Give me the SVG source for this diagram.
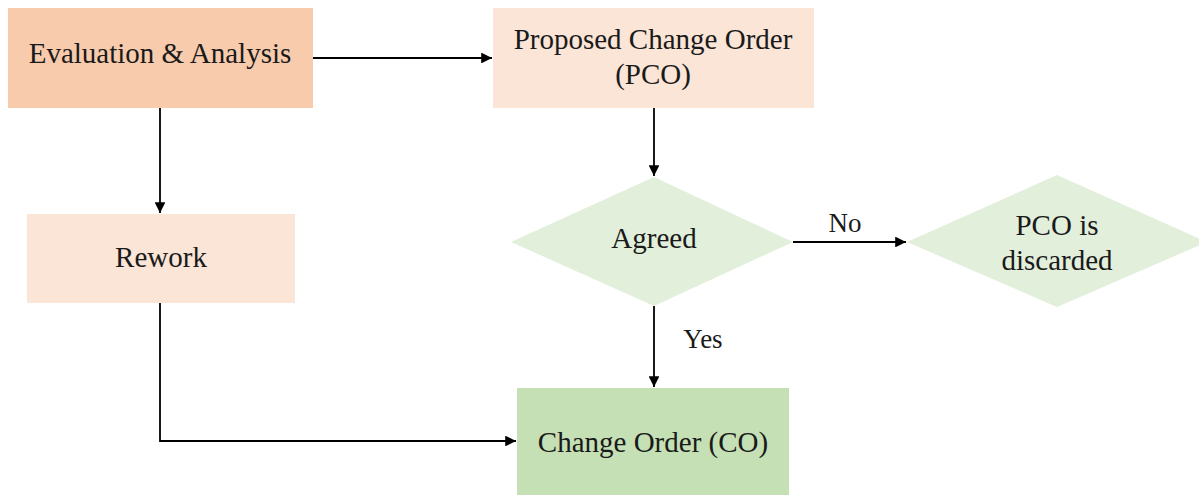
<svg xmlns="http://www.w3.org/2000/svg" width="1199" height="495" viewBox="0 0 1199 495">
<style>
text{font-family:'Liberation Serif',serif !important;font-size:29px;fill:#1a1a1a;text-anchor:middle}
text.lbl{font-size:27px}
.c{fill:none;stroke:#000;stroke-width:1.8}
</style>
<defs>
<marker id="ah" viewBox="0 0 10 10" refX="10" refY="5" markerWidth="6" markerHeight="6" markerUnits="strokeWidth" orient="auto">
<path d="M0,0 L10,5 L0,10 z" fill="#000"/>
</marker>
</defs>
<rect width="1199" height="495" fill="#fff"/>
<g id="eval"><rect x="8" y="8" width="305" height="100" fill="#F8CBAD"/><text x="160" y="63" style="font-family:'Liberation Serif',serif">Evaluation &amp; Analysis</text></g>
<g id="pco"><rect x="493" y="8" width="321" height="100" fill="#FBE5D6"/><text x="653" y="49" style="font-family:'Liberation Serif',serif">Proposed Change Order</text><text x="653" y="84" style="font-family:'Liberation Serif',serif">(PCO)</text></g>
<g id="rework"><rect x="27" y="214" width="268" height="89" fill="#FBE5D6"/><text x="161" y="267" style="font-family:'Liberation Serif',serif">Rework</text></g>
<g id="agreed"><polygon points="654,177 793,242 654,306 511,242" fill="#E2EFDA"/><text x="654" y="248" style="font-family:'Liberation Serif',serif">Agreed</text></g>
<g id="discarded"><polygon points="1057,175 1207,242 1057,307 907,242" fill="#E2EFDA"/><text x="1057" y="235" style="font-family:'Liberation Serif',serif">PCO is</text><text x="1057" y="270" style="font-family:'Liberation Serif',serif">discarded</text></g>
<g id="co"><rect x="517" y="388" width="272" height="107" fill="#C5E0B4"/><text x="653" y="452" style="font-family:'Liberation Serif',serif">Change Order (CO)</text></g>
<g id="connectors">
<line class="c" x1="313" y1="58" x2="492" y2="58" marker-end="url(#ah)"/>
<line class="c" x1="160" y1="108" x2="160" y2="213" marker-end="url(#ah)"/>
<line class="c" x1="654" y1="108" x2="654" y2="176" marker-end="url(#ah)"/>
<line class="c" x1="793" y1="242" x2="906" y2="242" marker-end="url(#ah)"/>
<line class="c" x1="654" y1="306" x2="654" y2="387" marker-end="url(#ah)"/>
<polyline class="c" points="160,303 160,441 516,441" marker-end="url(#ah)"/>
<text class="lbl" x="845" y="232" style="font-family:'Liberation Serif',serif">No</text>
<text class="lbl" x="703" y="348" style="font-family:'Liberation Serif',serif">Yes</text>
</g>
</svg>
